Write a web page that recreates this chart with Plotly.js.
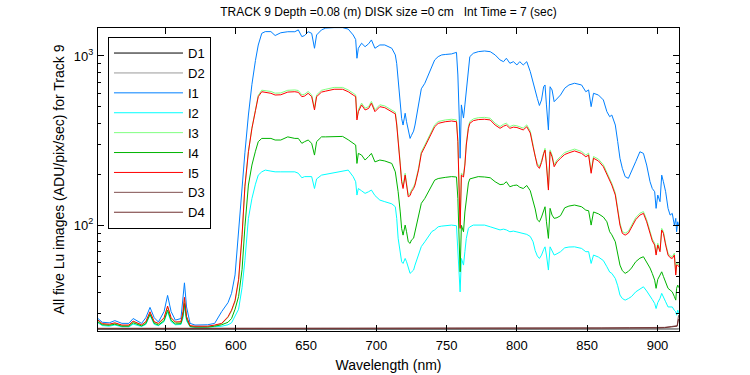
<!DOCTYPE html>
<html>
<head>
<meta charset="utf-8">
<script src="https://cdn.plot.ly/plotly-3.0.1.min.js"></script>
<style>html,body{margin:0;padding:0;background:#fff;}#chart{width:750px;height:375px;}</style>
</head>
<body>
<div id="chart"></div>
<script>
// Wavelength grid (nm) for the image series
const wavelength = [502,505,510,514,519,524,527,533,536,539,542,545,549,551.5,554,557,561,562.5,563.5,565,567.5,571,576,580,585,590,594.5,597,599.5,
602,604.5,606.5,609,611.5,614,616,618.5,621,625,628,632,637,642,644.5,647,649,651.5,654,656,657.5,661,664,670,676,680,683.5,685.3,686.2,687.2,689.5,692,694.5,696.5,699,702.5,706,711,713.5,714.5,715.5,717,718,719,720.5,721.5,722.7,724,725,726.5,727.5,730,732,734.5,737,739.5,741.5,744,746.5,749,753.5,757,758,759,759.6,760.5,762,763,764,765.5,766.5,769,772.5,777,781,784.5,788,790.5,792.5,795,797.5,800,802,804.5,807,809.5,811.5,813,814.5,816,817.5,819,820,821,822.4,823.6,825,826.5,828.5,831,834,837,841,846,849,851,852.8,854.5,858,861.5,864,866,867.5,870,871.7,873.3,875,877,879.3,881.5,884.5,887.5,890,892.3,894.7,896.3,898,899,900.2,901.8,903,904.2,905.8,907.5,909,910.5,912,913,913.6,914.4,915];

const I1 = [28.2,26.8,26.6,27.4,26.4,26.4,28.2,26.4,28.5,32.8,28.5,26.9,31,38.6,31,27.6,28.2,37,45.8,33,26.4,25.8,25.8,25.9,26.4,31,35,39.7,51,
92,180,268,448,680,940,1160,1360,1392,1392,1320,1370,1390,1390,1425,1300,1320,1390,1360,1110,1330,1425,1460,1470,1470,1440,1330,1250,969,1110,1189,1134,1180,1243,1110,1161,1161,1110,1014,900,738,537,428,391,459,409,360,326,340,360,391,514,640,690,772,846,947,991,1014,1020,1028,1050,772,430,249,514,430,514,615,885,991,1037,1060,1070,1060,1014,947,925,969,905,925,885,925,885,925,808,690,615,562,510,550,658,674,514,366,658,630,537,562,588,645,674,690,674,615,630,502,602,588,550,469,438,448,391,312,249,217,194,189.5,207,237.5,272,266,227,181,165,158,126,151,138,198,181,158,126,115,117.7,100.4,110,91.7,105,100];

const I2 = [26.6,25.6,25.4,25.8,25.2,25.2,26.1,25.3,26,29.5,26,25.6,27,30.9,27,25.9,26,28.5,33.4,27.3,25.2,25,25,25,25.2,25.4,25.9,26.6,29.5,
32,43,62,110,144,175,198,207,212,209,207,207,207,207,203,191,194,194,194,165,188,198,200,205,209,212,194,181,151,165,160,154.5,158,161.6,150,141,138,134,128.8,110,84,70,61,59.6,63.8,61,56,52.1,53,54.5,58.3,66.8,75,80,85.6,92,94,98.1,99,99.5,100.4,99.5,69.9,42.5,40.5,63.8,58.3,70,83.8,96,98,100.4,100.4,100.4,98.1,96,94,95,94,91.7,92.5,91.5,90.5,89.7,88.5,86,80,71,66,63.8,66.8,72,74.7,66.8,54.5,74.7,70,66.8,68,69.9,73.7,74.5,74.7,73.1,69.9,70,59.6,66.8,65,62,57,53,52.1,48.6,44,38.8,37,36.2,37,38,40.5,42,43.4,41,38.5,36.5,34.6,32.3,35,37.1,39.7,37.5,35.4,33,33,33,31.5,30.9,29.5,31.6,30.5];

const I3 = [27.4,26.1,25.9,26.4,25.6,25.6,27,25.7,26.8,30.6,26.8,26.2,28.2,33,28.2,26.7,26.8,30.7,37.1,28.7,25.4,25.2,25.2,25.2,25.6,26.2,28.6,31.2,35.5,
47,86,168,272,376,480,585,628,625,617,603,605,627,630,625,589,595,617,589,492,589,627,636,652,652,630,603,589,430,481,527,492,502,539,481,515,507,482,466,401,305,233,186,169,203,177,151,154,162,169,177,217,272,298,327,359,392,410,415,419,423,419,320,162,98,203,198,233,305,383,410,425,432,434,429,401,383,395,401,383,390,387,381,375,392,360,298,255,231,222,241,272,285,233,166,279,260,228,243,255,269,275,282,273,260,267,208,255,246,228,205,186,177,155,123,103,92,90,92.3,100.5,111,118,120.6,108,92.3,83,78.4,68.5,78.4,71.6,96,92,78.4,68.5,66,65.4,68.5,52.2,59.8,59.8,58.4];

const I4 = [26.9,25.9,25.7,26.1,25.4,25.4,26.6,25.5,26.3,29.9,26.4,25.8,27.4,31.6,27.5,26.2,26.3,29.5,34.6,28,25.3,25.1,25.1,25.1,25.4,25.9,26.8,28.2,32,
38,55,98,173,227,274,312,326,326,326,319,319,333,326,326,305,312,319,305,260,312,333,333,334,335,320,305,298,232,266,260,243,255,266,237,243,240,232,207,185,158,120,96,87.6,100.4,91.7,80,78.3,82,84,91.7,115,134.9,144.3,158,173,185,189,191,192,194,193,144,64,53.2,100,91.7,120,144,178,188,191,194,193,191,181,174,175,181,169,172,173,168,165,172,160,140,125,108,105,112,122,128.8,105,83.8,126,115,110,111,114,127,130,131.8,128.8,123,122,100.4,120,117,112,105,91.7,88,80,68,58.3,54,52.1,53.5,56,61,64,65.3,61,56,52,47.5,42.5,48,50.9,53.2,50,46.4,42.5,41.5,40.5,38,36.2,42.5,44.4,43];

const I5 = [27.6,26.3,26.1,26.6,25.8,25.8,27.2,25.9,27,30.9,27,26.4,28.5,33.4,28.5,26.9,27,31,37.6,29,25.6,25.4,25.4,25.4,25.8,26.4,28.9,31.6,36,
48,88,170,272,374,475,575,615,610,602,588,590,612,615,610,575,580,602,575,480,575,612,620,636,636,615,588,575,419,469,514,480,490,526,469,502,495,470,455,391,298,227,181,165,198,173,147.5,150,158,165,173,212,265,291,319,350,382,400,405,409,413,409,312,158,96,198,193,227,298,374,400,415,421,423,419,391,374,385,391,374,380,378,372,366,382,351,291,249,225,217,235,265,278,227,161.6,272,254,222,237,249,262,268,275,266,254,260,203,249,240,222,200,181,173,151,120,100.4,89.7,87.6,90,98,108,115,117.7,105,90,81,76.5,66.8,76.5,69.9,93.8,89.7,76.5,66.8,64.5,63.8,66.8,50.9,58.3,58.3,57];

// Dark frames, coarser wavelength grid
const darkWavelength = [502,520,540,560,580,600,620,640,660,680,700,720,740,760,780,800,820,840,860,880,900,905,910,912,914,915];
const D1 = [24.3,24.3,24.4,24.3,24.3,24.4,24.3,24.3,24.4,24.3,24.3,24.4,24.3,24.4,24.3,24.4,24.3,24.4,24.3,24.4,24.4,24.4,24.4,24.4,24.4,24.5];
const D2 = [24.4,24.4,24.4,24.5,24.4,24.4,24.5,24.4,24.4,24.5,24.4,24.4,24.5,24.4,24.5,24.4,24.5,24.5,24.4,24.5,24.5,24.5,24.5,24.5,24.6,24.6];
const D3 = [24.7,24.6,24.7,24.7,24.6,24.7,24.7,24.6,24.7,24.7,24.7,24.6,24.7,24.7,24.8,24.7,24.8,24.8,24.8,24.9,24.9,25,25.3,25.5,25.6,29.5];
const D4 = [24.6,24.6,24.6,24.7,24.6,24.6,24.7,24.6,24.6,24.7,24.6,24.6,24.7,24.6,24.7,24.7,24.7,24.8,24.7,24.8,24.8,24.9,25.1,25.3,25.4,28];

const names = ['D1','D2','I1','I2','I3','I4','I5','D3','D4'];
const colors = ['#000000','#999999','#0080ff','#00ffff','#80ff80','#00b400','#ff0000','#805050','#703030'];
const series = [D1,D2,I1,I2,I3,I4,I5,D3,D4];
const isDark = [true,true,false,false,false,false,false,true,true];

const font = 'Arial, "Liberation Sans", Helvetica, sans-serif';

const traces = series.map((s,i)=>({
  type:'scatter', mode:'lines', name:names[i],
  x: isDark[i] ? darkWavelength : wavelength, y: s,
  line:{color:colors[i], width:1}
}));

const yLabels = [100,1000];
const yLabelText = ['10<sup>2</sup>','10<sup>3</sup>'];
const yMinor = [30,40,50,60,70,80,90,200,300,400,500,600,700,800,900];
const xTicks = [550,600,650,700,750,800,850,900];

const layout = {
  width:750, height:375,
  margin:{l:98, r:71, t:28, b:44},
  paper_bgcolor:'#fff', plot_bgcolor:'#fff',
  font:{family:font, size:13, color:'#000'},
  title:{text:'TRACK 9 Depth =0.08 (m) DISK size =0 cm\u00a0\u00a0\u00a0Int Time = 7 (sec)',
         font:{family:font, size:12, color:'#000'},
         x:0.5, xref:'paper', xanchor:'center', y:0.968, yref:'container', yanchor:'middle'},
  xaxis:{range:[502,915.3], showline:true, linecolor:'#000', linewidth:1, mirror:'ticks',
         ticks:'inside', ticklen:6, tickcolor:'#000', tickvals:xTicks, showgrid:false, zeroline:false,
         tickfont:{family:font,size:13}, ticklabelstandoff:2,
         title:{text:'Wavelength (nm)', font:{family:font,size:14}, standoff:8}},
  yaxis:{type:'log', range:[Math.log10(23.8), Math.log10(1462)], showline:true, linecolor:'#000', linewidth:1, mirror:'ticks',
         ticks:'inside', ticklen:6, tickcolor:'#000', tickmode:'array', tickvals:yLabels, ticktext:yLabelText,
         showgrid:false, zeroline:false, tickfont:{family:font,size:13}, ticklabelstandoff:1,
         minor:{tickmode:'array', tickvals:yMinor, ticks:'inside', ticklen:3, tickcolor:'#000', showgrid:false},
         title:{text:'All five Lu images (ADU/pix/sec) for Track 9', font:{family:font,size:14}, standoff:5}},
  showlegend:true,
  legend:{x:0.0172, y:0.97, xanchor:'left', yanchor:'top', bgcolor:'#fff', bordercolor:'#000', borderwidth:1,
          font:{family:font,size:13}, itemwidth:69, tracegroupgap:0}
};

Plotly.newPlot('chart', traces, layout, {displayModeBar:false, staticPlot:true});
</script>
</body>
</html>
